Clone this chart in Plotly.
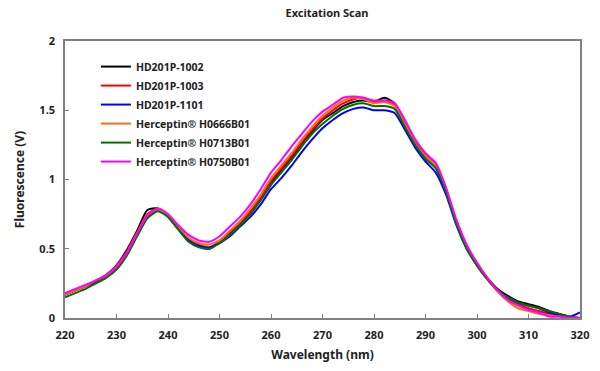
import plotly.graph_objects as go

wavelength = list(range(220, 321, 2))

hd201p_1002 = [0.17, 0.20, 0.23, 0.26, 0.31, 0.38, 0.49, 0.63, 0.78, 0.79,
               0.73, 0.64, 0.56, 0.52, 0.50, 0.55, 0.61, 0.68, 0.76, 0.86,
               0.98, 1.07, 1.16, 1.26, 1.35, 1.43, 1.48, 1.53, 1.56, 1.57,
               1.56, 1.59, 1.55, 1.40, 1.26, 1.17, 1.10, 0.92, 0.69, 0.51,
               0.39, 0.29, 0.21, 0.16, 0.12, 0.10, 0.08, 0.05, 0.03, 0.01, 0.00]
hd201p_1003 = [0.17, 0.20, 0.23, 0.27, 0.31, 0.38, 0.48, 0.62, 0.75, 0.79,
               0.74, 0.65, 0.57, 0.53, 0.51, 0.55, 0.62, 0.69, 0.77, 0.87,
               0.99, 1.08, 1.17, 1.27, 1.36, 1.44, 1.50, 1.55, 1.58, 1.59,
               1.56, 1.57, 1.54, 1.41, 1.27, 1.18, 1.11, 0.93, 0.69, 0.51,
               0.38, 0.28, 0.20, 0.14, 0.10, 0.07, 0.05, 0.03, 0.02, 0.01, 0.00]
hd201p_1101 = [0.17, 0.20, 0.23, 0.27, 0.31, 0.37, 0.47, 0.60, 0.73, 0.78,
               0.74, 0.65, 0.56, 0.52, 0.51, 0.54, 0.59, 0.66, 0.73, 0.82,
               0.93, 1.01, 1.10, 1.20, 1.29, 1.37, 1.43, 1.48, 1.51, 1.52,
               1.50, 1.50, 1.48, 1.36, 1.23, 1.13, 1.05, 0.89, 0.67, 0.50,
               0.38, 0.28, 0.20, 0.15, 0.11, 0.09, 0.07, 0.04, 0.02, 0.01, 0.04]
herceptin_h0666b01 = [0.17, 0.20, 0.23, 0.27, 0.31, 0.37, 0.47, 0.61, 0.74, 0.78,
                      0.74, 0.66, 0.58, 0.54, 0.53, 0.56, 0.63, 0.70, 0.79, 0.89,
                      1.01, 1.10, 1.19, 1.29, 1.38, 1.46, 1.52, 1.57, 1.59, 1.58,
                      1.55, 1.56, 1.53, 1.40, 1.26, 1.17, 1.10, 0.92, 0.69, 0.51,
                      0.38, 0.28, 0.19, 0.12, 0.07, 0.05, 0.03, 0.02, 0.01, 0.01, 0.00]
herceptin_h0713b01 = [0.15, 0.18, 0.21, 0.25, 0.29, 0.35, 0.45, 0.59, 0.72, 0.77,
                      0.73, 0.64, 0.55, 0.51, 0.50, 0.54, 0.60, 0.67, 0.75, 0.85,
                      0.96, 1.05, 1.14, 1.24, 1.33, 1.40, 1.46, 1.51, 1.54, 1.55,
                      1.53, 1.53, 1.51, 1.38, 1.25, 1.15, 1.08, 0.91, 0.68, 0.50,
                      0.38, 0.28, 0.20, 0.15, 0.11, 0.09, 0.07, 0.05, 0.03, 0.01, 0.00]
herceptin_h0750b01 = [0.18, 0.21, 0.24, 0.27, 0.31, 0.37, 0.47, 0.61, 0.74, 0.79,
                      0.75, 0.67, 0.60, 0.56, 0.55, 0.59, 0.66, 0.73, 0.82, 0.93,
                      1.05, 1.14, 1.24, 1.33, 1.42, 1.49, 1.54, 1.59, 1.60, 1.59,
                      1.57, 1.57, 1.55, 1.43, 1.29, 1.19, 1.12, 0.94, 0.71, 0.53,
                      0.40, 0.29, 0.20, 0.13, 0.09, 0.06, 0.04, 0.01, 0.01, 0.00, 0.00]

series_names = ["HD201P-1002", "HD201P-1003", "HD201P-1101",
                "Herceptin® H0666B01", "Herceptin® H0713B01", "Herceptin® H0750B01"]
series_values = [hd201p_1002, hd201p_1003, hd201p_1101,
                 herceptin_h0666b01, herceptin_h0713b01, herceptin_h0750b01]
series_colors = ["#000000", "#ff0000", "#0000ff", "#ff6a13", "#007000", "#ff00ff"]

x_ticks = list(range(220, 321, 10))
y_ticks = [0, 0.5, 1, 1.5, 2]
y_tick_labels = ["0", "0.5", "1", "1.5", "2"]

fig = go.Figure()
for name, vals, col in zip(series_names, series_values, series_colors):
    fig.add_trace(go.Scatter(x=wavelength, y=vals, mode="lines", name=name,
                             line=dict(color=col, width=2, shape="spline", smoothing=0.6)))

font_family = "Noto Sans, Open Sans, sans-serif"
fig.update_layout(
    width=600, height=371,
    margin=dict(l=65, r=11, t=41, b=53),
    paper_bgcolor="white", plot_bgcolor="white",
    title=dict(text="Excitation Scan", x=0.545, xanchor="center", y=0.965, yanchor="middle",
               font=dict(family=font_family, size=11, color="#222", weight="bold")),
    showlegend=True,
    legend=dict(x=0.06, y=0.96, xanchor="left", yanchor="top",
                bgcolor="rgba(0,0,0,0)", tracegroupgap=0,
                font=dict(family=font_family, size=10.5, color="#222", weight="bold"),
                itemwidth=30),
    font=dict(family=font_family, color="#222"),
)
fig.update_xaxes(range=[220, 320], tickvals=x_ticks, ticks="inside", ticklen=4,
                 tickcolor="#808080", showline=True, linecolor="#808080", linewidth=1.5,
                 mirror=True, showgrid=False, zeroline=False, ticklabelstandoff=6,
                 tickfont=dict(family=font_family, size=11, color="#222", weight="bold"),
                 title=dict(text="Wavelength (nm)", standoff=10,
                            font=dict(family=font_family, size=12, color="#222", weight="bold")))
fig.update_yaxes(range=[0, 2], tickvals=y_ticks, ticktext=y_tick_labels, ticks="inside",
                 ticklen=4, tickcolor="#808080", showline=True, linecolor="#808080",
                 linewidth=1.5, mirror=True, showgrid=False, zeroline=False,
                 ticklabelstandoff=6,
                 tickfont=dict(family=font_family, size=11, color="#222", weight="bold"),
                 title=dict(text="Fluorescence (V)", standoff=12,
                            font=dict(family=font_family, size=12, color="#222", weight="bold")))

fig.write_html("out.html")
